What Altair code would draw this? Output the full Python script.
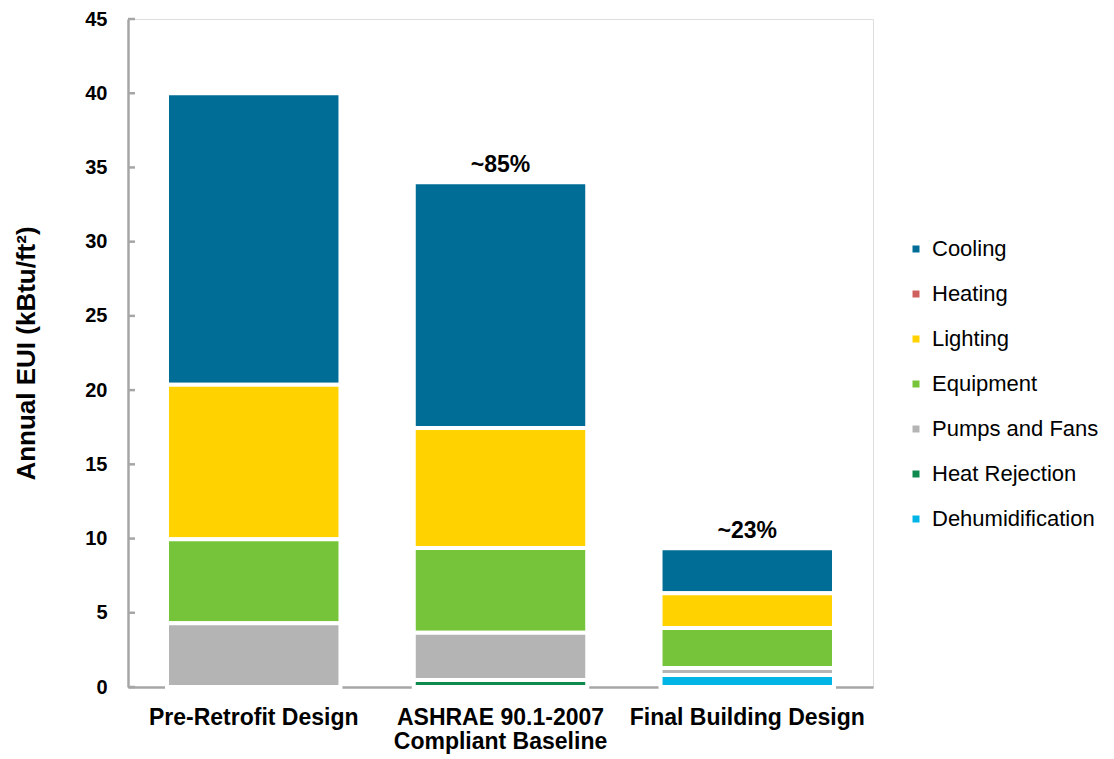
import altair as alt
import pandas as pd

categories = ["Pre-Retrofit Design", "ASHRAE 90.1-2007 Compliant Baseline", "Final Building Design"]
end_uses = ["Cooling", "Heating", "Lighting", "Equipment", "Pumps and Fans", "Heat Rejection", "Dehumidification"]
colors = ["#006D96", "#D0605E", "#FFD200", "#76C43A", "#B4B4B4", "#0F8A4F", "#00B5E6"]
stack_order = [7, 6, 5, 4, 3, 2, 1]  # bottom = 1

cooling = [19.64, 16.55, 3.02]
heating = [0.0, 0.0, 0.0]
lighting = [10.41, 8.09, 2.35]
equipment = [5.65, 5.70, 2.69]
pumps_fans = [4.30, 3.19, 0.47]
heat_rejection = [0.0, 0.47, 0.0]
dehumidification = [0.0, 0.0, 0.81]

annotations = ["", "~85%", "~23%"]
y_ticks = [0, 5, 10, 15, 20, 25, 30, 35, 40, 45]

series = [cooling, heating, lighting, equipment, pumps_fans, heat_rejection, dehumidification]
rows = []
for name, vals, o in zip(end_uses, series, stack_order):
    for cat, v in zip(categories, vals):
        rows.append({"Design": cat, "EndUse": name, "Value": v, "Order": o})
df = pd.DataFrame(rows)

totals = [sum(s[i] for s in series) for i in range(len(categories))]
ann_df = pd.DataFrame({"Design": categories, "Total": totals, "Label": annotations})
tick_df = pd.DataFrame({"t": y_ticks})

FONT = "Liberation Sans"

x_scale = alt.Scale(paddingInner=0.297, paddingOuter=0.158)

x_enc = alt.X(
    "Design:N",
    sort=categories,
    scale=x_scale,
    axis=alt.Axis(
        title=None,
        labelAngle=0,
        labelFont=FONT,
        labelFontSize=23,
        labelFontWeight="bold",
        labelColor="#000000",
        labelPadding=19,
        labelLineHeight=24,
        labelLimit=0,
        labelExpr="datum.value == 'ASHRAE 90.1-2007 Compliant Baseline' ? ['ASHRAE 90.1-2007', 'Compliant Baseline'] : datum.label",
        ticks=False,
        domainColor="#A6A6A6",
        domainWidth=2.5,
    ),
)

y_scale = alt.Scale(domain=[0, 45], nice=False)

bars = alt.Chart(df).transform_filter("datum.Value > 0").mark_bar(
    stroke="white", strokeWidth=4
).encode(
    x=x_enc,
    y=alt.Y(
        "Value:Q",
        stack="zero",
        scale=y_scale,
        axis=alt.Axis(
            title="Annual EUI (kBtu/ft²)",
            titleFont=FONT,
            titleFontSize=26,
            titleFontWeight="bold",
            titleColor="#000000",
            titlePadding=45,
            values=y_ticks,
            labelFont=FONT,
            labelFontSize=20,
            labelFontWeight="bold",
            labelColor="#000000",
            labelPadding=21,
            ticks=False,
            grid=False,
            domainColor="#A6A6A6",
            domainWidth=2.5,
        ),
    ),
    color=alt.Color(
        "EndUse:N",
        scale=alt.Scale(domain=end_uses, range=colors),
        legend=alt.Legend(
            title=None,
            orient="none",
            legendX=777,
            legendY=219,
            symbolType="square",
            symbolSize=49,
            symbolStrokeWidth=0,
            labelFont=FONT,
            labelFontSize=22,
            labelColor="#000000",
            labelOffset=5,
            rowPadding=23,
            labelLimit=0,
        ),
    ),
    order=alt.Order("Order:Q", sort="ascending"),
)

ticks = alt.Chart(tick_df).mark_rule(color="#A6A6A6", strokeWidth=2.5).encode(
    y=alt.Y("t:Q", scale=y_scale),
    x=alt.value(0),
    x2=alt.value(7),
)

labels = alt.Chart(ann_df).mark_text(
    font=FONT, fontSize=23, fontWeight="bold", color="#000000", dy=-10, baseline="alphabetic"
).encode(
    x=alt.X("Design:N", sort=categories, scale=x_scale),
    y=alt.Y("Total:Q", scale=y_scale),
    text="Label:N",
)

chart = alt.layer(bars, ticks, labels).properties(
    width=745,
    height=668,
    autosize=alt.AutoSizeParams(type="none"),
    padding={"left": 120, "top": 11, "right": 230, "bottom": 70},
).configure_view(stroke=None).configure(background="white")

chart.save("out.html", embed_options={"renderer": "svg", "actions": False})
